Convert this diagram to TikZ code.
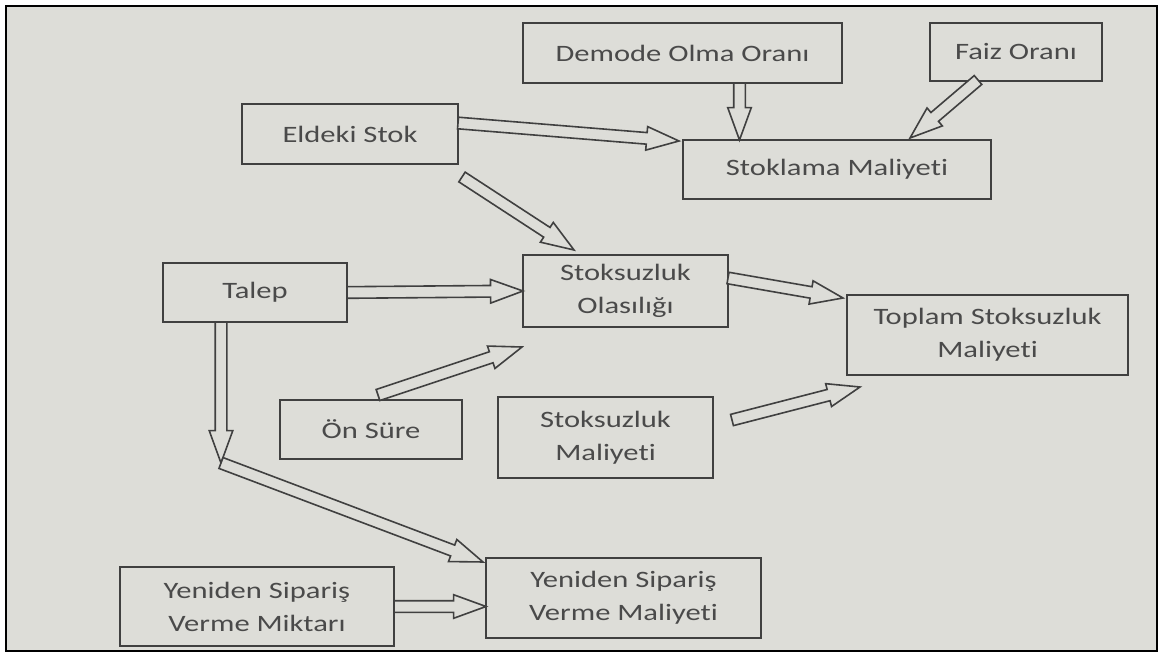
\documentclass[tikz,border=0pt]{standalone}
\usepackage{fontspec}
\setmainfont[FakeStretch=1.3, Ligatures=CommonOff]{Carlito}
\usetikzlibrary{shapes.arrows,calc}
\definecolor{paper}{RGB}{221,221,216}
\definecolor{ink}{RGB}{64,64,64}
\definecolor{print}{RGB}{74,74,74}
\newcommand{\flowarrow}[2]{%
	\path let \p1=(#1), \p2=(#2), \n1={atan2(\y2-\y1,\x2-\x1)}, \n2={veclen(\x2-\x1,\y2-\y1)} in
		node[hollow, anchor=tail, minimum height=\n2, rotate={\n1}] at (\p1) {};}
\begin{document}
\begin{tikzpicture}[x=1pt, y=-1pt,
	box/.style={draw=ink, line width=1.8pt, fill=paper, text=print, align=center, inner sep=0pt, outer sep=0pt, font=\fontsize{23.5}{33}\selectfont},
	hollow/.style={single arrow, draw=ink, fill=paper, line width=1.6pt, inner xsep=0pt, inner ysep=5pt, single arrow head extend=6pt, single arrow tip angle=40, minimum width=0pt, outer sep=0pt}]
	\useasboundingbox (0,0) rectangle (1162,655);
	\fill[white] (0,0) rectangle (1162,655);
	\filldraw[fill=paper, draw=black, line width=2pt] (6,6) rectangle (1157,651);
	\node[box, minimum width=319, minimum height=60] (demode) at (682.5,53) {Demode Olma Oranı};
	\node[box, minimum width=172, minimum height=58] (faiz) at (1016,52) {Faiz Oranı};
	\node[box, minimum width=216, minimum height=60] (eldeki) at (350,134) {Eldeki Stok};
	\node[box, minimum width=308, minimum height=59] (stoklama) at (837,169.5) {Stoklama Maliyeti};
	\node[box, minimum width=184, minimum height=59] (talep) at (255,292.5) {Talep};
	\node[box, minimum width=205, minimum height=72] (olasilik) at (625.5,291) {Stoksuzluk\\Olasılığı};
	\node[box, minimum width=281, minimum height=80] (toplam) at (987.5,335) {Toplam Stoksuzluk\\Maliyeti};
	\node[box, minimum width=182, minimum height=59] (onsure) at (371,429.5) {Ön Süre};
	\node[box, minimum width=215, minimum height=81] (smaliyet) at (605.5,437.5) {Stoksuzluk\\Maliyeti};
	\node[box, minimum width=274, minimum height=79] (miktar) at (257,606.5) {Yeniden Sipariş\\Verme Miktarı};
	\node[box, minimum width=275, minimum height=80] (ymaliyet) at (623.5,598) {Yeniden Sipariş\\Verme Maliyeti};
	\coordinate (d1) at ([xshift=57pt]demode.south);
	\coordinate (jn) at (221,463);
	\flowarrow{[yshift=11pt]eldeki.east}{[xshift=-4pt,yshift=-1pt]stoklama.north west}
	\flowarrow{d1}{d1 |- stoklama.north}
	\flowarrow{[xshift=-38pt,yshift=1pt]faiz.south}{[xshift=73pt,yshift=2pt]stoklama.north}
	\flowarrow{[xshift=4pt,yshift=-13pt]eldeki.south east}{[xshift=51pt,yshift=5pt]olasilik.north west}
	\flowarrow{talep.east}{olasilik.west}
	\flowarrow{[yshift=13pt]olasilik.east}{[xshift=-4pt,yshift=-3pt]toplam.north west}
	\flowarrow{[xshift=7pt,yshift=5pt]onsure.north}{[xshift=-1pt,yshift=-20pt]olasilik.south west}
	\flowarrow{[xshift=19pt,yshift=17.5pt]smaliyet.east}{[xshift=13pt,yshift=-12pt]toplam.south west}
	\flowarrow{talep.south -| jn}{jn}
	\flowarrow{jn}{[xshift=-3pt,yshift=-4pt]ymaliyet.north west}
	\flowarrow{miktar.east}{ymaliyet.west |- miktar.east}
\end{tikzpicture}
\end{document}
